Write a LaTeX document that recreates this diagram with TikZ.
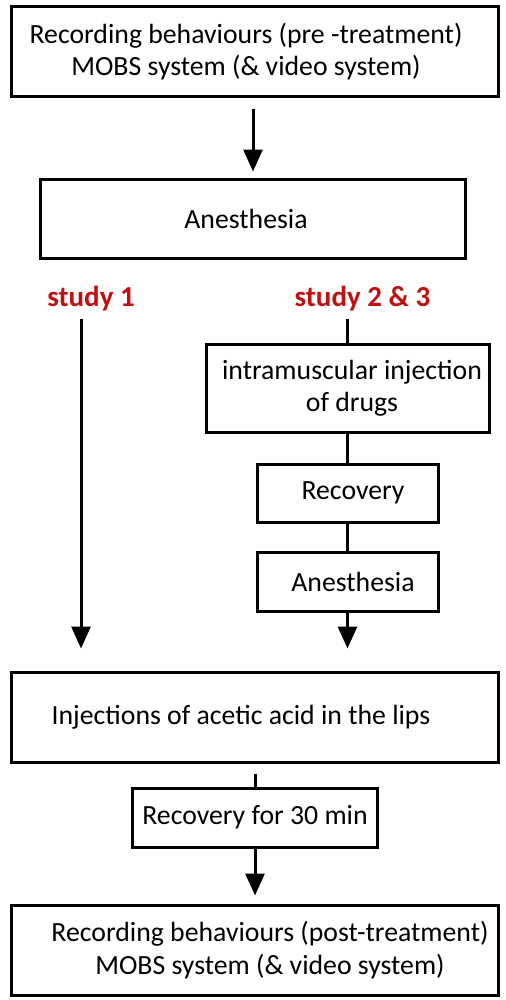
\documentclass[tikz,border=0pt]{standalone}
\usepackage{fontspec}
\setmainfont{Carlito}
\usetikzlibrary{arrows.meta}
\definecolor{studyred}{RGB}{192,16,16}
\tikzset{
  stepbox/.style={draw, line width=0.6mm, align=center, inner sep=0pt},
  flow/.style={line width=0.6mm},
  flowarrow/.style={line width=0.6mm, -{Triangle[width=3.8mm,length=4.4mm]}},
  studylabel/.style={text=studyred, font=\fontsize{16.5}{19}\selectfont\bfseries}
}

\begin{document}
\begin{tikzpicture}[x=0.2mm, y=-0.2mm]
	\fontsize{15.8}{18.5}\selectfont
	\useasboundingbox (0,0) rectangle (506,1000);
	% Main boxes
	\node[stepbox, minimum width=97.2mm, minimum height=17.8mm] (pre) at (255,51.5) {\hspace*{-3.6mm}Recording behaviours (pre -treatment)\\\hspace*{-3.6mm}MOBS system (\& video system)};
	\node[stepbox, minimum width=84.8mm, minimum height=15.8mm] (anes) at (253,218.5) {\hspace*{-2.8mm}Anesthesia};
	
	% Study labels
	\node[studylabel] (studyone) at (91,299) {study 1};
	\node[studylabel] (studytwo) at (362.5,299) {study 2 \& 3};
	\coordinate (onetop) at (81,319);
	\coordinate (twotop) at (347.5,319);
	
	% Branch of study 2 & 3
	\node[stepbox, minimum width=56.6mm, minimum height=17.6mm] (drugs) at (347.5,388) {\hspace*{1.8mm}intramuscular injection\\\hspace*{1.8mm}of drugs};
	\node[stepbox, minimum width=36.2mm, minimum height=11.6mm] (recov) at (347.5,493) {\hspace*{2.2mm}Recovery};
	\node[stepbox, minimum width=36.2mm, minimum height=11.8mm] (anestwo) at (347.5,581.5) {\hspace*{2.2mm}Anesthesia};
	
	% Common steps
	\node[stepbox, minimum width=97.2mm, minimum height=18mm] (acid) at (255,717) {\hspace*{-5.6mm}Injections of acetic acid in the lips};
	\node[stepbox, minimum width=48.8mm, minimum height=11.8mm] (recthirty) at (255,817.5) {Recovery for 30 min};
	\node[stepbox, minimum width=97.2mm, minimum height=18mm] (post) at (255,950) {\hspace*{6mm}Recording behaviours (post-treatment)\\\hspace*{6mm}MOBS system (\& video system)};
	
	% Connectors
	\draw[flowarrow, shorten <=2.2mm, shorten >=1.2mm] (anes.north |- pre.south) -- (anes.north);
	\draw[flowarrow, shorten >=4.4mm] (onetop) -- (onetop |- acid.north);
	\draw[flow] (twotop) -- (drugs.north);
	\draw[flow] (drugs.south) -- (recov.north);
	\draw[flow] (recov.south) -- (anestwo.north);
	\draw[flowarrow, shorten >=4.4mm] (anestwo.south) -- (anestwo.south |- acid.north);
	\draw[flow, shorten <=2mm] (acid.south) -- (recthirty.north);
	\draw[flowarrow, shorten >=1.6mm] (recthirty.south) -- (post.north);
\end{tikzpicture}
\end{document}
